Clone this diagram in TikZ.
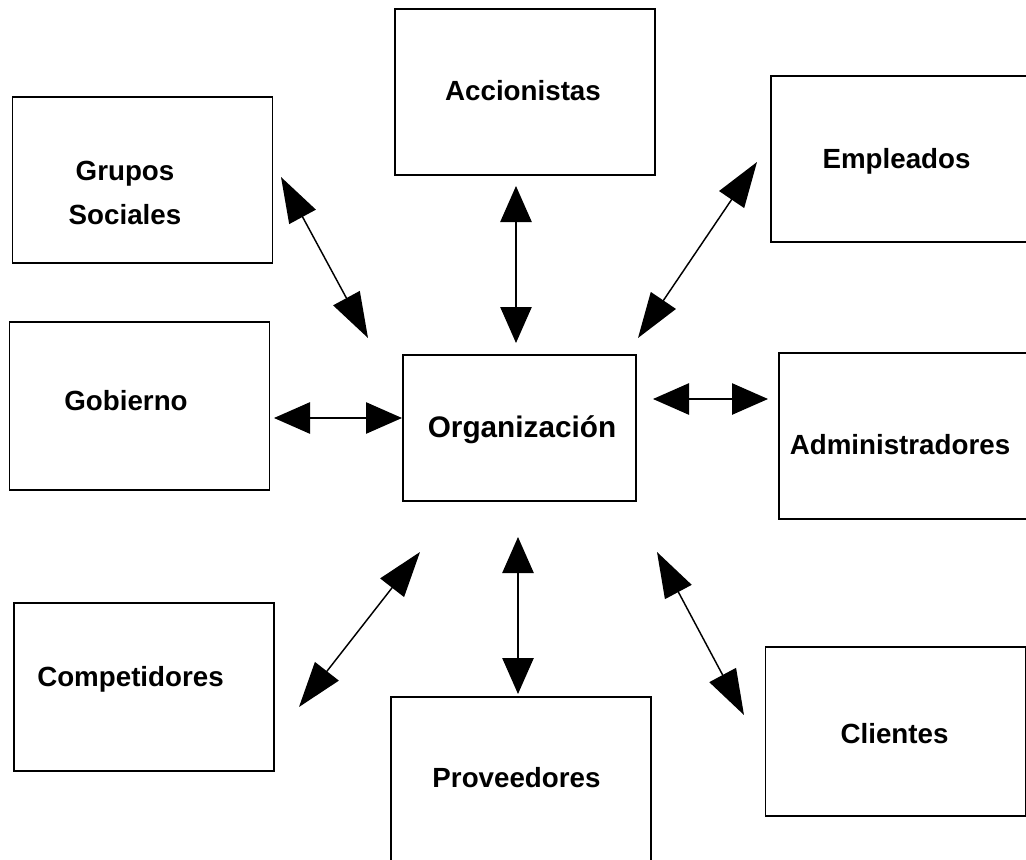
\documentclass[tikz,border=0pt]{standalone}
\usepackage{fontspec}
\setmainfont{Liberation Sans}
\usetikzlibrary{arrows.meta}

\begin{document}
\begin{tikzpicture}[x=0.75pt, y=-0.75pt,
    every node/.style={font=\fontsize{20.8}{33}\selectfont\bfseries},
    box/.style={draw, line width=1.3pt, minimum width=195pt, minimum height=124.5pt, inner sep=0pt},
    link/.style={line width=1.1pt, {Triangle[length=27pt,width=23.5pt]}-{Triangle[length=27pt,width=23.5pt]}},
    slant/.style={line width=1.1pt, {Triangle[length=34pt,width=22.5pt]}-{Triangle[length=34pt,width=22.5pt]}}]
    \useasboundingbox (0,0) rectangle (1026,860);

    % the boxes
    \node[box] (acc) at (525,92) {};
    \node[box] (grp) at (142.5,180) {};
    \node[box] (emp) at (901,159) {};
    \node[box, minimum height=126pt] (gob) at (139.5,406) {};
    \node[box, minimum width=174.75pt, minimum height=109.5pt] (org) at (519.5,428) {};
    \node[box] (adm) at (909,436) {};
    \node[box, minimum height=126pt] (comp) at (144,687) {};
    \node[box] (prov) at (521,780) {};
    \node[box, minimum height=126.75pt] (cli) at (895.5,731.5) {};

    % the names inside them
    \node[anchor=base] (acc-t) at (523,100) {Accionistas};
    \node[align=center] (grp-t) at (125,193) {Grupos\\Sociales};
    \node[anchor=base] (emp-t) at (896.5,168) {Empleados};
    \node[anchor=base] (gob-t) at (126,410) {Gobierno};
    \node[anchor=base, font=\fontsize{22.3}{26}\selectfont\bfseries] (org-t) at (522,437) {Organización};
    \node[anchor=base] (adm-t) at (900,454) {Administradores};
    \node[anchor=base] (comp-t) at (130.5,686) {Competidores};
    \node[anchor=base] (prov-t) at (516.5,787) {Proveedores};
    \node[anchor=base] (cli-t) at (894.5,743) {Clientes};

    % arrow ends
    \coordinate (grp-a) at (281,177);  \coordinate (grp-b) at (368,338);
    \coordinate (acc-a) at (516,186);  \coordinate (acc-b) at (516,343);
    \coordinate (emp-a) at (757,162);  \coordinate (emp-b) at (638,338);
    \coordinate (gob-a) at (274,418);  \coordinate (gob-b) at (402,418);
    \coordinate (adm-a) at (653,399);  \coordinate (adm-b) at (768,399);
    \coordinate (comp-a) at (420,552); \coordinate (comp-b) at (299,707);
    \coordinate (prov-a) at (518,537); \coordinate (prov-b) at (518,694);
    \coordinate (cli-a) at (657,552);  \coordinate (cli-b) at (744,715);

    \draw[slant] (grp-a) -- (grp-b);
    \draw[link] (acc-a) -- (acc-b);
    \draw[slant] (emp-a) -- (emp-b);
    \draw[link] (gob-a) -- (gob-b);
    \draw[link] (adm-a) -- (adm-b);
    \draw[slant] (comp-a) -- (comp-b);
    \draw[link] (prov-a) -- (prov-b);
    \draw[slant] (cli-a) -- (cli-b);
\end{tikzpicture}
\end{document}
